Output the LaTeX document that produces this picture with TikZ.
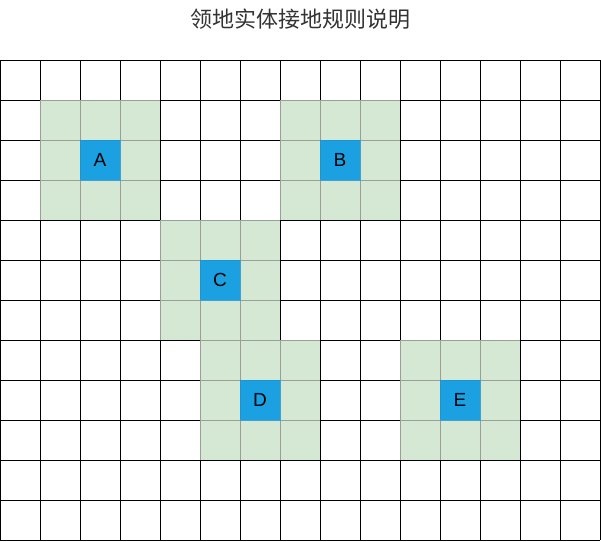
\documentclass[tikz,border=0pt]{standalone}
\usepackage{fontspec}
\setmainfont{Liberation Sans}
\newfontfamily\cjk{Noto Sans CJK SC}
\definecolor{cellgreen}{HTML}{D5E8D4}
\definecolor{entityblue}{HTML}{1BA1E2}
\definecolor{titlegray}{HTML}{333333}
\begin{document}
\begin{tikzpicture}[x=1pt,y=-1pt,
  gridline/.style={line width=1pt,draw=black},
  territory/.style={fill=cellgreen,draw=black,draw opacity=0.3,line width=1pt},
  entity/.style={fill=entityblue,draw=entityblue!85!black,draw opacity=0.4,line width=1pt,minimum width=40pt,minimum height=40pt,inner sep=0pt,font=\fontsize{19}{19}\selectfont,text=black},
  titletext/.style={font=\cjk\fontsize{22}{22}\selectfont,text=titlegray}]
\useasboundingbox (0,0) rectangle (601,541);
\node[titletext] (title) at (300.5,19) {领地实体接地规则说明};
% grid
\foreach \i in {0,...,15} { \draw[gridline] (\i*40,60) -- (\i*40,540); }
\foreach \j in {0,...,12} { \draw[gridline] (0,60+\j*40) -- (600,60+\j*40); }
% territories
\foreach \cx/\cy/\lab in {100/160/A,340/160/B,220/280/C,260/400/D,460/400/E} {
  \foreach \dx in {-1,0,1} { \foreach \dy in {-1,0,1} {
    \draw[territory] (\cx+\dx*40-20,\cy+\dy*40-20) rectangle ++(40,40);
  }}
  \node[entity] (\lab) at (\cx,\cy) {\lab};
}
\end{tikzpicture}
\end{document}
